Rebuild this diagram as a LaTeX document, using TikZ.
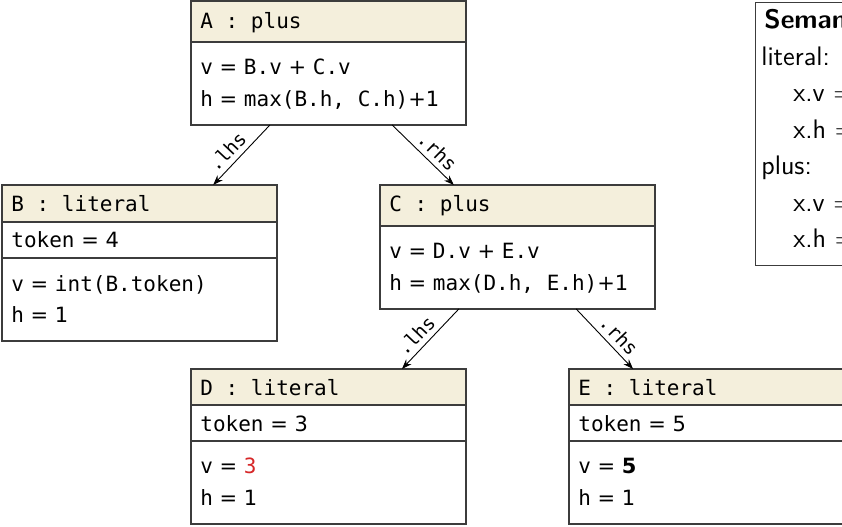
\documentclass[tikz,border=0pt]{standalone}
\usepackage{fontspec}
\setmonofont{DejaVu Sans Mono}
\newfontfamily\dvsans{DejaVu Sans}
\usetikzlibrary{arrows.meta}
\definecolor{hdrfill}{RGB}{244,239,220}
\definecolor{boxline}{RGB}{60,60,60}
\definecolor{hired}{RGB}{214,39,40}
\newcommand{\cd}[1]{\texttt{#1}}
\begin{document}
\begin{tikzpicture}[x=0.5pt,y=-0.5pt,
  box/.style={draw=boxline, line width=0.6pt, minimum width=137.5pt, inner sep=0pt, outer sep=0pt},
  hdr/.style={path picture={\fill[hdrfill] (path picture bounding box.north west) rectangle ([yshift=-#1]path picture bounding box.north east);}},
  sepline/.style={draw=boxline, line width=0.6pt},
  txt/.style={anchor=base west, inner sep=0pt, font=\dvsans\fontsize{10.5}{12}\selectfont},
  htxt/.style={anchor=base west, inner sep=0pt, font=\ttfamily\fontsize{10.5}{12}\selectfont},
  leg/.style={anchor=base west, inner sep=0pt, font=\sffamily\fontsize{13.4}{15}\selectfont},
  conn/.style={draw=black, line width=0.45pt, -{Stealth[length=5pt,width=3.6pt]}},
  elabel/.style={pos=0.59, above, sloped, inner sep=2.6pt, font=\ttfamily\fontsize{9.5}{9.5}\selectfont}
]
\path[use as bounding box] (0,0) rectangle (842,526);
\clip (0,0) rectangle (842,526);

% boxes
\node[box, minimum height=62pt, hdr=20.5pt] (A) at (328.5,63) {};
\node[box, minimum height=78pt, hdr=18.5pt] (B) at (139.5,263) {};
\node[box, minimum height=62pt, hdr=20.5pt] (C) at (517.5,247) {};
\node[box, minimum height=77.5pt, hdr=18pt] (D) at (328.5,446.5) {};
\node[box, minimum height=77.5pt, hdr=18pt] (E) at (706.5,446.5) {};

% separators
\draw[sepline] ([yshift=-20.5pt]A.north west) -- ([yshift=-20.5pt]A.north east);
\draw[sepline] ([yshift=-18.5pt]B.north west) -- ([yshift=-18.5pt]B.north east);
\draw[sepline] ([yshift=-36.5pt]B.north west) -- ([yshift=-36.5pt]B.north east);
\draw[sepline] ([yshift=-20.5pt]C.north west) -- ([yshift=-20.5pt]C.north east);
\draw[sepline] ([yshift=-18pt]D.north west) -- ([yshift=-18pt]D.north east);
\draw[sepline] ([yshift=-36pt]D.north west) -- ([yshift=-36pt]D.north east);
\draw[sepline] ([yshift=-18pt]E.north west) -- ([yshift=-18pt]E.north east);
\draw[sepline] ([yshift=-36pt]E.north west) -- ([yshift=-36pt]E.north east);

% texts
\node[htxt] (A1) at (200,28) {A : plus};
\node[txt] (A2) at (200,74) {\cd{v} = \cd{B.v} + \cd{C.v}};
\node[txt] (A3) at (200,106) {\cd{h} = \cd{max(B.h, C.h)}+1};

\node[htxt] (B1) at (11,211) {B : literal};
\node[txt] (B2) at (11,247) {\cd{token} = 4};
\node[txt] (B3) at (11,291) {\cd{v} = \cd{int(B.token)}};
\node[txt] (B4) at (11,322) {\cd{h} = 1};

\node[htxt] (C1) at (389,211) {C : plus};
\node[txt] (C2) at (389,258) {\cd{v} = \cd{D.v} + \cd{E.v}};
\node[txt] (C3) at (389,290) {\cd{h} = \cd{max(D.h, E.h)}+1};

\node[htxt] (D1) at (200,395) {D : literal};
\node[txt] (D2) at (200,431.5) {\cd{token} = 3};
\node[txt] (D3) at (200,473.5) {\cd{v} = \textcolor{hired}{\cd{3}}};
\node[txt] (D4) at (200,505) {\cd{h} = 1};

\node[htxt] (E1) at (578,395) {E : literal};
\node[txt] (E2) at (578,431.5) {\cd{token} = 5};
\node[txt] (E3) at (578,473.5) {\cd{v} = \textbf{5}};
\node[txt] (E4) at (578,505) {\cd{h} = 1};

% connectors
\draw[conn] (A) -- node[elabel] (lab1) {.lhs} (B);
\draw[conn] (A) -- node[elabel] (lab2) {.rhs} (C);
\draw[conn] (C) -- node[elabel] (lab3) {.lhs} (D);
\draw[conn] (C) -- node[elabel] (lab4) {.rhs} (E);

% legend
\node[draw=boxline, line width=0.6pt, anchor=north west, minimum width=150pt, minimum height=131.5pt, inner sep=0pt] (L) at (755,1.5) {};
\node[leg, font=\sffamily\bfseries\fontsize{13.4}{15}\selectfont] (L0) at (764,28.5) {Semantics};
\node[leg] (L1) at (761,65) {literal:};
\node[leg] (L2) at (793,101.5) {x.v =};
\node[leg] (L3) at (793,138) {x.h =};
\node[leg] (L4) at (761,174.5) {plus:};
\node[leg] (L5) at (793,211) {x.v =};
\node[leg] (L6) at (793,247.5) {x.h =};
\end{tikzpicture}
\end{document}
